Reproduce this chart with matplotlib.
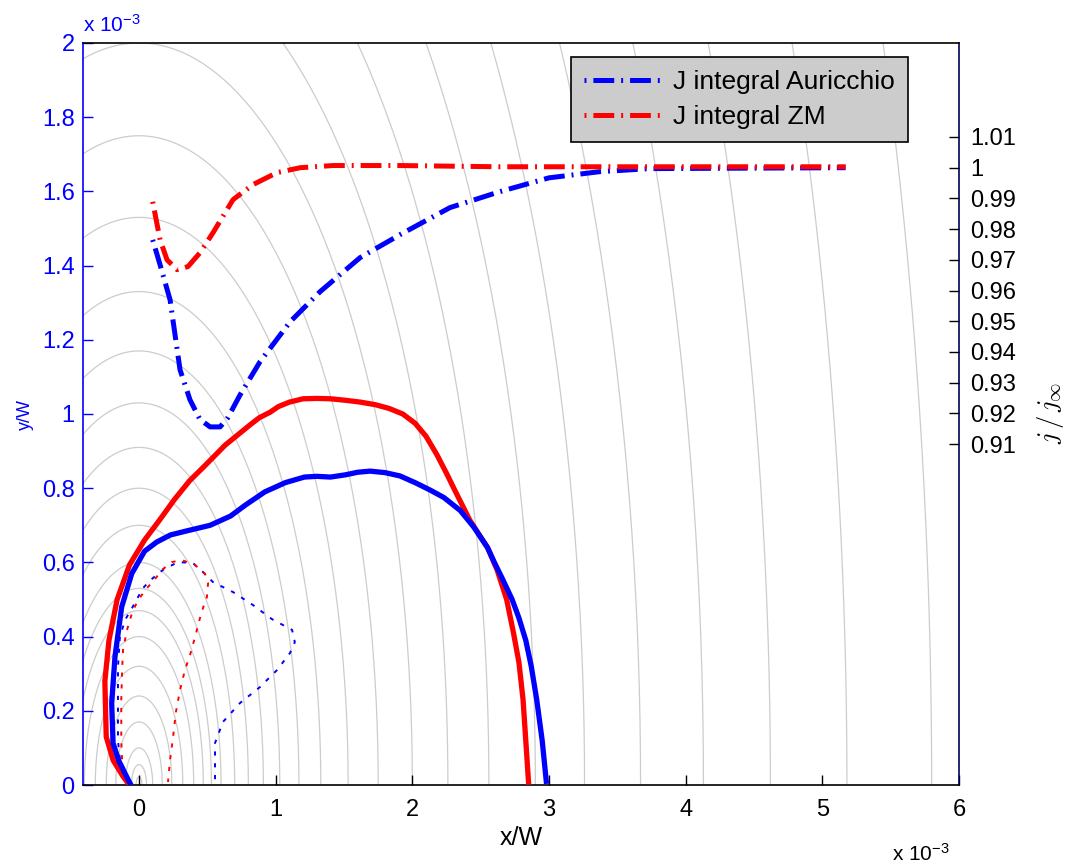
import numpy as np
import matplotlib
matplotlib.use("Agg")
import matplotlib.pyplot as plt

plt.rcParams['font.family'] = ['Liberation Sans', 'DejaVu Sans']
plt.rcParams['mathtext.fontset'] = 'custom'
plt.rcParams['mathtext.rm'] = 'Liberation Sans'
plt.rcParams['mathtext.it'] = 'Liberation Sans:italic'
plt.rcParams['lines.scale_dashes'] = False

# all lengths in units of 1e-3 (x/W, y/W)
contour_radii = [5.80, 5.18, 4.62, 4.13, 3.67, 3.26, 2.90, 2.56, 2.26, 2.00,
                 1.75, 1.53, 1.33, 1.17, 1.03, 0.91, 0.80, 0.70, 0.60, 0.53,
                 0.47, 0.40, 0.32, 0.24, 0.17, 0.10, 0.055, 0.022]

# crack fronts (thick solid)
front_aur_x = [2.98, 2.95, 2.91, 2.87, 2.83, 2.78, 2.73, 2.66, 2.60, 2.55, 2.45,
               2.35, 2.23, 2.13, 2.02, 1.91, 1.80, 1.69, 1.60, 1.51, 1.40, 1.30,
               1.21, 1.07, 0.92, 0.78, 0.67, 0.52, 0.35, 0.23, 0.13, 0.04,
               -0.053, -0.127, -0.176, -0.20, -0.19, -0.15, -0.09, -0.066]
front_aur_y = [0.01, 0.12, 0.23, 0.32, 0.39, 0.45, 0.50, 0.555, 0.60, 0.64,
               0.695, 0.74, 0.775, 0.795, 0.815, 0.833, 0.842, 0.846, 0.843,
               0.836, 0.830, 0.832, 0.830, 0.815, 0.790, 0.755, 0.725, 0.700,
               0.685, 0.674, 0.655, 0.63, 0.57, 0.48, 0.346, 0.22, 0.113, 0.067,
               0.022, 0.005]

front_zm_x = [2.85, 2.83, 2.81, 2.78, 2.74, 2.69, 2.62, 2.55, 2.42, 2.31, 2.25,
              2.18, 2.10, 2.02, 1.93, 1.83, 1.73, 1.62, 1.51, 1.40, 1.30, 1.20,
              1.10, 1.02, 0.96, 0.88, 0.81, 0.63, 0.48, 0.37, 0.26, 0.15, 0.04,
              -0.07, -0.16, -0.22, -0.25, -0.24, -0.19, -0.115, -0.08]
front_zm_y = [0.008, 0.12, 0.23, 0.33, 0.41, 0.50, 0.58, 0.64, 0.714, 0.795,
              0.84, 0.89, 0.94, 0.975, 1.000, 1.015, 1.025, 1.032, 1.037, 1.041,
              1.042, 1.041, 1.032, 1.020, 1.005, 0.99, 0.97, 0.916, 0.86, 0.82,
              0.77, 0.714, 0.66, 0.593, 0.50, 0.39, 0.28, 0.13, 0.067, 0.022,
              0.005]

# inner (dotted) fronts
inner_aur_x = [-0.07, -0.095, -0.14, -0.154, -0.154, -0.154, -0.14, -0.102,
               -0.051, 0.029, 0.102, 0.176, 0.285, 0.395, 0.468, 0.541, 0.688,
               0.834, 0.973, 1.12, 1.14, 1.105, 1.01, 0.885, 0.739, 0.614,
               0.556, 0.556, 0.556]
inner_aur_y = [0.013, 0.024, 0.067, 0.121, 0.229, 0.318, 0.399, 0.445, 0.477,
               0.531, 0.558, 0.580, 0.601, 0.598, 0.574, 0.547, 0.520, 0.485,
               0.447, 0.418, 0.385, 0.356, 0.31, 0.264, 0.221, 0.170, 0.113,
               0.046, 0.0]

inner_zm_x = [-0.08, -0.10, -0.124, -0.13, -0.13, -0.124, -0.117, -0.088,
              -0.051, -0.007, 0.059, 0.117, 0.168, 0.241, 0.315, 0.41, 0.483,
              0.505, 0.497, 0.468, 0.446, 0.41, 0.373, 0.336, 0.30, 0.27,
              0.249, 0.227, 0.212]
inner_zm_y = [0.008, 0.027, 0.067, 0.121, 0.229, 0.31, 0.364, 0.418, 0.464,
              0.499, 0.531, 0.555, 0.580, 0.601, 0.606, 0.593, 0.569, 0.544,
              0.507, 0.477, 0.45, 0.399, 0.35, 0.31, 0.256, 0.197, 0.129,
              0.067, 0.008]

# J integral along the front, normalised (right axis)
j_aur_x = [0.10, 0.154, 0.227, 0.30, 0.373, 0.446, 0.52, 0.593, 0.65, 0.739,
           0.885, 1.105, 1.324, 1.617, 1.91, 2.275, 2.64, 3.0, 3.37, 3.74, 5.17]
j_aur = [0.9765, 0.9684, 0.957, 0.9342, 0.9244, 0.918, 0.9156, 0.9156, 0.9186,
         0.926, 0.9368, 0.9498, 0.9596, 0.9707, 0.9782, 0.987, 0.9922, 0.9967,
         0.9987, 0.9997, 1.0]
j_zm_x = [0.10, 0.154, 0.205, 0.278, 0.358, 0.446, 0.541, 0.688, 0.834, 1.01,
          1.18, 1.42, 1.91, 2.64, 5.17]
j_zm = [0.9889, 0.9765, 0.970, 0.9668, 0.9678, 0.9723, 0.9788, 0.9896, 0.9945,
        0.9984, 1.0, 1.0007, 1.0007, 1.0003, 1.0003]

x_ticks = [0, 1, 2, 3, 4, 5, 6]
y_ticks = [0, 0.2, 0.4, 0.6, 0.8, 1.0, 1.2, 1.4, 1.6, 1.8, 2.0]
j_ticks = [0.91, 0.92, 0.93, 0.94, 0.95, 0.96, 0.97, 0.98, 0.99, 1.0, 1.01]

W, H = 1067, 867
fig = plt.figure(figsize=(W / 100, H / 100), dpi=100)
ax = fig.add_axes([83 / W, 1 - 785 / H, (959 - 83) / W, (785 - 43) / H])

theta = np.linspace(0, np.pi, 400)
for r in contour_radii:
    ax.plot(r * np.cos(theta), r * np.sin(theta), color='#cccccc', lw=0.9, zorder=1)

ax.plot(inner_aur_x, inner_aur_y, color='blue', lw=1.4, dashes=[3, 5.5], zorder=2)
ax.plot(inner_zm_x, inner_zm_y, color='red', lw=1.4, dashes=[3, 5.5], zorder=2)
ax.plot(front_zm_x, front_zm_y, color='red', lw=3.8, zorder=3)
ax.plot(front_aur_x, front_aur_y, color='blue', lw=3.8, zorder=3)

ax.set_xlim(-0.41, 6)
ax.set_ylim(0, 2)
ax.set_xticks(x_ticks)
ax.set_xticklabels([f"{v:g}" for v in x_ticks])
ax.set_yticks(y_ticks)
ax.set_yticklabels([f"{v:g}" for v in y_ticks])
ax.tick_params(direction='in', length=7, width=1, labelsize=17)
ax.tick_params(axis='x', colors='black', pad=10, top=False)
ax.tick_params(axis='y', colors='blue', pad=6, right=True)
ax.spines['left'].set_color('blue')
ax.spines['right'].set_color('#00005a')
for s in ax.spines.values():
    s.set_linewidth(1.2)

ax2 = ax.twinx()
ax2.plot(j_aur_x, j_aur, color='blue', lw=3.6, dashes=[1.4, 5, 15, 5],
         label='J integral Auricchio')
ax2.plot(j_zm_x, j_zm, color='red', lw=3.6, dashes=[1.4, 5, 15, 5],
         label='J integral ZM')
ax2.set_ylim(0.799, 1.0406)
ax2.set_yticks(j_ticks)
ax2.set_yticklabels([f"{v:g}" for v in j_ticks])
ax2.tick_params(direction='in', length=7, width=1, labelsize=17, pad=8, colors='black')
for s in ax2.spines.values():
    s.set_visible(False)

leg = ax2.legend(loc='upper left', bbox_to_anchor=(571 / W, 1 - 57 / H),
                 bbox_transform=fig.transFigure, fontsize=19, frameon=True,
                 fancybox=False, edgecolor='black', facecolor='#cccccc',
                 framealpha=1, handlelength=3.0, handletextpad=0.35,
                 labelspacing=0.4, borderpad=0.5, borderaxespad=0)
leg.get_frame().set_linewidth(1.2)

fig.text(521 / W, 1 - 838 / H, 'x/W', ha='center', va='center', fontsize=18)
fig.text(25 / W, 1 - 415 / H, 'y/W', ha='center', va='center', fontsize=13,
         rotation=90, color='blue')
fig.text(1050 / W, 1 - 413 / H, r'$j\,/\,j_\infty$', ha='center', va='center',
         fontsize=19, rotation=90, math_fontfamily='cm')
fig.text(83 / W, 1 - 32 / H, r'x 10$^{-3}$', ha='left', va='baseline',
         fontsize=15, color='blue')
fig.text(892 / W, 1 - 861 / H, r'x 10$^{-3}$', ha='left', va='baseline',
         fontsize=15, color='black')

fig.savefig('out.png', dpi=100)
